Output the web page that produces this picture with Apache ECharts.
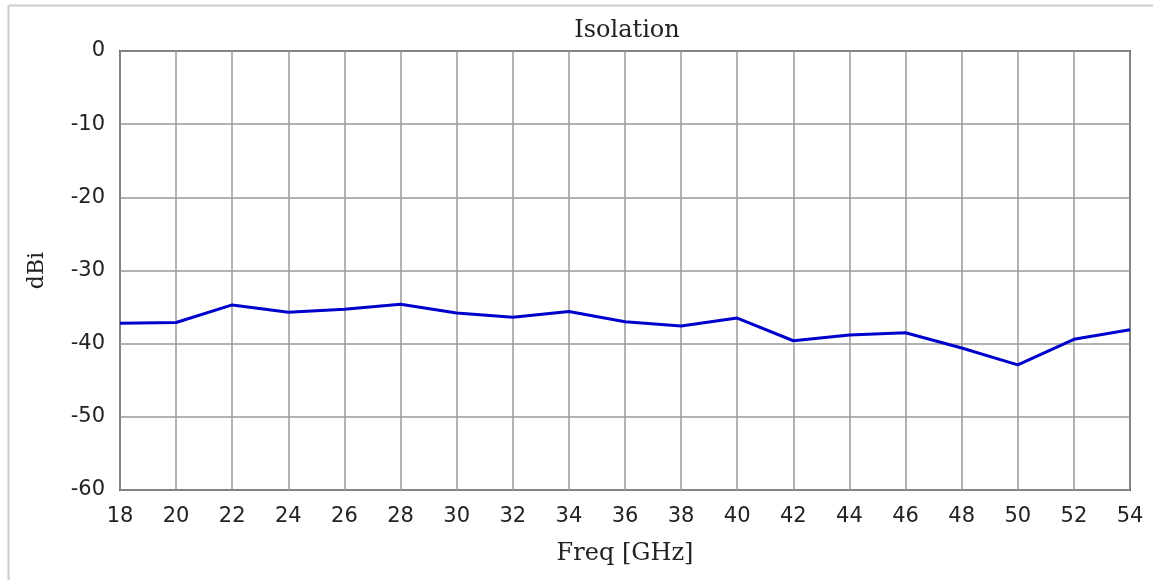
<!DOCTYPE html>
<html><head><meta charset="utf-8">
<script src="https://cdn.jsdelivr.net/npm/echarts@6/dist/echarts.min.js"></script>
<style>html,body{margin:0;padding:0;background:#fff;}#c{width:1153px;height:580px;}</style>
</head><body><div id="c"></div>
<script>
const freq = [18,20,22,24,26,28,30,32,34,36,38,40,42,44,46,48,50,52,54];
const isolation = [-37.2,-37.1,-34.7,-35.7,-35.3,-34.6,-35.8,-36.4,-35.6,-37.0,-37.6,-36.5,-39.6,-38.8,-38.5,-40.6,-42.9,-39.4,-38.1];
const titleText = 'Isolation';
const xName = 'Freq [GHz]';
const yName = 'dBi';
const chart = echarts.init(document.getElementById('c'));
chart.setOption({
  animation:false,
  backgroundColor:'#fff',
  title:{text:titleText,left:622,top:14,textAlign:'center',textStyle:{fontFamily:'DejaVu Serif',fontWeight:'normal',fontSize:24,color:'#222'}},
  graphic:[
    {type:'line',shape:{x1:8.5,y1:5.5,x2:1153,y2:5.5},style:{stroke:'#ccc',lineWidth:2}},
    {type:'line',shape:{x1:8.5,y1:5.5,x2:8.5,y2:580},style:{stroke:'#ccc',lineWidth:2}}
  ],
  grid:{left:120,top:51,width:1010,height:439,show:true,borderColor:'#444',borderWidth:2,backgroundColor:'transparent'},
  xAxis:{type:'value',min:18,max:54,interval:2,name:xName,nameLocation:'middle',nameGap:52,
    nameTextStyle:{fontFamily:'DejaVu Serif',fontSize:24,color:'#222'},
    axisLine:{show:false},axisTick:{show:false},
    axisLabel:{fontFamily:'DejaVu Sans',fontSize:21,color:'#222',margin:16},
    splitLine:{show:true,lineStyle:{color:'#999',width:1.5}}},
  yAxis:{type:'value',min:-60,max:0,interval:10,name:yName,nameLocation:'middle',nameGap:72,nameRotate:90,
    nameTextStyle:{fontFamily:'DejaVu Serif',fontSize:22,color:'#222'},
    axisLine:{show:false},axisTick:{show:false},
    axisLabel:{fontFamily:'DejaVu Sans',fontSize:21,color:'#222',margin:15},
    splitLine:{show:true,lineStyle:{color:'#999',width:1.5}}},
  series:[{type:'line',data:freq.map((f,i)=>[f,isolation[i]]),showSymbol:false,
    lineStyle:{color:'#0000cc',width:3},itemStyle:{color:'#0000cc'}}]
});
</script></body></html>
